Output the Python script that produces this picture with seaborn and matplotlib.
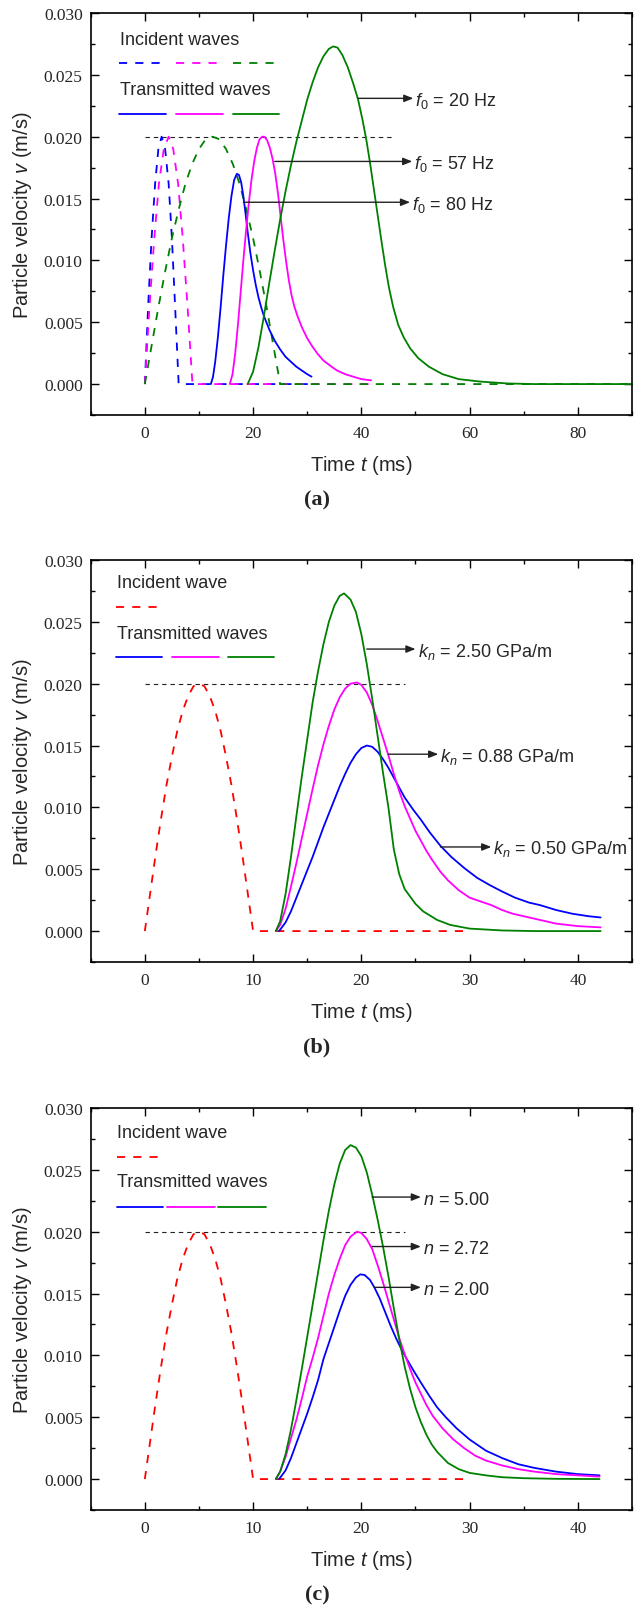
import matplotlib
matplotlib.use("Agg")
import matplotlib.pyplot as plt
from matplotlib.ticker import MultipleLocator, FormatStrFormatter
import seaborn as sns

# ---------------------------------------------------------------- data
# (a) incident half-sine pulses, f0 = 80, 57, 20 Hz (t in ms, v in m/s)
inc80_t = [0, 0.6, 1.25, 1.9, 2.5, 3.1, 3.75, 4.4, 5.0, 5.6, 6.25, 31]
inc80_v = [0, .0062, .0118, .0162, .0190, .0200, .0190, .0162, .0118, .0062, 0, 0]
inc57_t = [0, 0.85, 1.75, 2.6, 3.5, 4.4, 5.25, 6.15, 7.0, 7.9, 8.8, 42]
inc57_v = [0, .0062, .0118, .0162, .0190, .0200, .0190, .0162, .0118, .0062, 0, 0]
inc20_t = [0, 1.25, 2.5, 3.75, 5, 6.25, 7.5, 8.75, 10, 11.25, 12.5,
           13.75, 15, 16.25, 17.5, 18.75, 20, 21.25, 22.5, 23.75, 25, 90]
inc20_v = [0, .0031, .0062, .0091, .0118, .0141, .0162, .0178, .0190, .0198, .0200,
           .0198, .0190, .0178, .0162, .0141, .0118, .0091, .0062, .0031, 0, 0]

# (a) transmitted waves
tr80_t = [12.2, 12.6, 13.0, 13.5, 14.0, 14.5, 15.0, 15.5, 16.0, 16.5, 17.0, 17.4,
          17.8, 18.2, 18.6, 19.0, 19.5, 20.0, 20.5, 21.0, 21.5, 22.0, 23.0, 24.0,
          25.0, 26.0, 27.0, 28.0, 29.0, 30.0, 30.8]
tr80_v = [0, .0006, .0018, .0038, .0062, .0088, .0112, .0134, .0152, .0165, .0170, .0169,
          .0163, .0152, .0138, .0123, .0106, .0092, .0080, .0070, .0062, .0055, .0044, .0035,
          .0028, .0022, .0018, .0014, .0011, .0008, .0006]
tr57_t = [15.7, 16.2, 16.7, 17.2, 17.7, 18.2, 18.7, 19.2, 19.7, 20.2, 20.7, 21.2,
          21.7, 22.1, 22.6, 23.1, 23.6, 24.1, 24.6, 25.1, 25.6, 26.1, 26.6, 27.1,
          27.6, 28.2, 29.0, 30.0, 31.0, 32.0, 33.0, 34.2, 35.5, 37.0, 38.5, 40.0, 41.8]
tr57_v = [0, .0008, .0025, .0048, .0074, .0100, .0124, .0146, .0165, .0180, .0191, .0198,
          .0200, .0200, .0197, .0191, .0182, .0170, .0154, .0135, .0116, .0099, .0084, .0072,
          .0063, .0055, .0046, .0037, .0030, .0024, .0019, .0015, .0011, .0008, .0006, .0004, .0003]
tr20_t = [19.0, 20.0, 21.0, 22.0, 23.0, 24.0, 25.0, 26.0, 27.0, 28.0, 29.0, 30.0,
          31.0, 32.0, 33.0, 34.0, 34.8, 35.6, 36.5, 37.5, 38.5, 39.4, 40.2, 40.9,
          41.6, 42.3, 43.0, 43.7, 44.4, 45.1, 45.9, 46.8, 47.8, 49.0, 50.5, 52.5,
          55.0, 58.0, 62.0, 67.0, 72.0, 90.0]
tr20_v = [0, .0010, .0030, .0055, .0082, .0108, .0133, .0156, .0177, .0196, .0213, .0230,
          .0244, .0256, .0265, .0271, .0273, .0272, .0266, .0256, .0243, .0230, .0214, .0198,
          .0179, .0158, .0137, .0116, .0096, .0078, .0062, .0048, .0038, .0029, .0021, .0014,
          .0008, .0004, .0002, .00005, 0, 0]

# (b), (c) incident half-sine pulse (10 ms)
inc_t = [0, 0.5, 1, 1.5, 2, 2.5, 3, 3.5, 4, 4.5, 5, 5.5, 6, 6.5, 7, 7.5, 8, 8.5,
         9, 9.5, 10, 30]
inc_v = [0, .0031, .0062, .0091, .0118, .0141, .0162, .0178, .0190, .0198, .0200, .0198,
         .0190, .0178, .0162, .0141, .0118, .0091, .0062, .0031, 0, 0]

# (b) transmitted waves, kn = 2.50, 0.88, 0.50 GPa/m
kn250_t = [12.1, 12.5, 13.0, 13.5, 14.0, 14.5, 15.0, 15.5, 16.0, 16.5, 17.0, 17.5,
           18.0, 18.4, 19.0, 19.5, 20.0, 20.5, 21.0, 21.5, 22.0, 22.5, 23.0, 23.5,
           24.0, 25.0, 25.7, 27.0, 28.2, 30.0, 33.0, 36.0, 42.1]
kn250_v = [0, .0008, .0030, .0060, .0093, .0125, .0155, .0185, .0210, .0232, .0250, .0263,
           .0271, .0273, .0268, .0258, .0240, .0216, .0188, .0158, .0128, .0100, .0066, .0046,
           .0034, .0022, .0016, .0009, .0005, .0002, .00005, 0, 0]
kn088_t = [12.1, 12.5, 13.0, 13.5, 14.0, 14.5, 15.0, 15.5, 16.0, 16.5, 17.0, 17.5,
           18.0, 18.5, 19.0, 19.6, 20.0, 20.5, 21.0, 21.5, 22.0, 22.5, 23.0, 23.5,
           24.0, 24.5, 25.0, 25.5, 26.0, 26.5, 27.3, 28.0, 29.0, 30.0, 31.0, 32.0,
           33.0, 34.0, 35.0, 36.5, 38.0, 40.0, 42.1]
kn088_v = [0, .0005, .0018, .0036, .0055, .0075, .0095, .0115, .0134, .0151, .0166, .0179,
           .0189, .0196, .0200, .0201, .0199, .0193, .0183, .0170, .0156, .0142, .0127, .0113,
           .0101, .0091, .0081, .0073, .0065, .0058, .0048, .0041, .0033, .0027, .0024, .0021,
           .0017, .0014, .0012, .0009, .0006, .0004, .0003]
kn050_t = [12.4, 13.0, 13.5, 14.0, 14.5, 15.0, 15.5, 16.0, 16.5, 17.0, 17.5, 18.0,
           18.5, 19.0, 19.5, 20.0, 20.5, 21.0, 21.5, 22.0, 22.5, 23.0, 23.5, 24.0,
           24.8, 25.5, 26.3, 27.3, 28.3, 29.5, 30.7, 31.9, 33.0, 34.2, 35.5, 36.5,
           38.0, 39.5, 41.0, 42.1]
kn050_v = [0, .0007, .0016, .0027, .0038, .0049, .0060, .0072, .0084, .0095, .0106, .0117,
           .0127, .0136, .0143, .0148, .0150, .0149, .0145, .0139, .0132, .0124, .0116, .0108,
           .0098, .0090, .0080, .0069, .0060, .0051, .0043, .0037, .0032, .0027, .0023, .0021,
           .0017, .0014, .0012, .0011]

# (c) transmitted waves, n = 5.00, 2.72, 2.00
n500_t = [12.1, 12.5, 13.0, 13.5, 14.0, 14.5, 15.0, 15.5, 16.0, 16.5, 17.0, 17.5,
          18.0, 18.5, 19.0, 19.5, 20.0, 20.5, 21.0, 21.5, 22.0, 22.5, 23.0, 23.5,
          24.0, 24.5, 25.0, 25.5, 26.0, 26.5, 27.0, 28.0, 29.0, 30.0, 31.5, 33.0,
          35.0, 38.0, 42.0]
n500_v = [0, .0006, .0020, .0040, .0064, .0089, .0115, .0141, .0167, .0193, .0217, .0238,
          .0255, .0266, .0270, .0268, .0261, .0248, .0230, .0210, .0188, .0164, .0138, .0113,
          .0091, .0073, .0058, .0046, .0036, .0028, .0022, .0013, .0008, .0005, .0003, .00015,
          .00007, .00002, 0]
n272_t = [12.1, 12.5, 13.0, 13.5, 14.0, 14.5, 15.0, 15.5, 16.0, 16.5, 17.0, 17.5,
          18.0, 18.5, 19.0, 19.6, 20.0, 20.5, 21.0, 21.5, 22.0, 22.5, 23.0, 23.5,
          24.0, 24.5, 25.0, 25.5, 26.0, 26.6, 27.5, 28.5, 29.5, 30.5, 31.5, 33.0,
          34.5, 36.0, 38.0, 40.0, 42.0]
n272_v = [0, .0006, .0018, .0033, .0048, .0065, .0083, .0098, .0114, .0132, .0150, .0165,
          .0178, .0189, .0196, .0200, .0199, .0194, .0186, .0173, .0159, .0144, .0129, .0114,
          .0101, .0089, .0078, .0069, .0060, .0051, .0041, .0032, .0025, .0019, .0015, .0011,
          .0008, .0006, .0004, .0003, .0002]
n200_t = [12.4, 13.0, 13.5, 14.0, 14.5, 15.0, 15.5, 16.0, 16.5, 17.0, 17.5, 18.0,
          18.5, 19.0, 19.5, 19.9, 20.3, 20.8, 21.2, 21.7, 22.2, 22.7, 23.2, 23.7,
          24.2, 24.8, 25.5, 26.3, 27.0, 27.8, 28.8, 30.0, 31.5, 33.0, 34.5, 36.0,
          38.0, 40.0, 42.0]
n200_v = [0, .0007, .0017, .0029, .0041, .0053, .0066, .0080, .0097, .0110, .0123, .0136,
          .0148, .0157, .0163, .01655, .0165, .0161, .0155, .0146, .0135, .0124, .0114, .0105,
          .0097, .0088, .0078, .0067, .0058, .0050, .0041, .0032, .0023, .0017, .0012, .0009,
          .0006, .0004, .0003]

# annotation labels and arrow geometry: (label, arrow start t, arrow end t, v)
notes_a = [("$f_0$ = 20 Hz", 39.4, 49.6, 0.0231),
           ("$f_0$ = 57 Hz", 24.0, 49.4, 0.0180),
           ("$f_0$ = 80 Hz", 18.2, 49.0, 0.0147)]
notes_b = [("$k_n$ = 2.50 GPa/m", 20.5, 25.0, 0.0228),
           ("$k_n$ = 0.88 GPa/m", 22.5, 27.1, 0.0143),
           ("$k_n$ = 0.50 GPa/m", 27.3, 32.0, 0.0068)]
notes_c = [("$n$ = 5.00", 21.0, 25.5, 0.0228),
           ("$n$ = 2.72", 21.0, 25.5, 0.0188),
           ("$n$ = 2.00", 21.2, 25.5, 0.0155)]

BLUE, MAGENTA, GREEN, RED = "#0000FF", "#FF00FF", "#008000", "#FF0000"

# ---------------------------------------------------------------- style
sns.set_style("ticks")
plt.rcParams["font.family"] = ["Liberation Sans", "DejaVu Sans"]
plt.rcParams["mathtext.fontset"] = "custom"
plt.rcParams["mathtext.rm"] = "Liberation Sans"
plt.rcParams["mathtext.it"] = "Liberation Sans:italic"
plt.rcParams["mathtext.bf"] = "Liberation Sans:bold"

LW = 1.3
DASH = (0, (4.5, 4.5))

fig = plt.figure(figsize=(6.34, 16.08), dpi=100)
W = 541.3 / 634
H = 402 / 1608
ax_a = fig.add_axes([90.7 / 634, 1 - 416 / 1608, W, H])
ax_b = fig.add_axes([90.7 / 634, 1 - 963 / 1608, W, H])
ax_c = fig.add_axes([90.7 / 634, 1 - 1511 / 1608, W, H])


def curve(ax, t, v, color, dashed=False):
    sns.lineplot(x=t, y=v, ax=ax, color=color, linewidth=LW, sort=False,
                 estimator=None, legend=False,
                 linestyle=DASH if dashed else "-")


def style_axes(ax, xlim, xmajor):
    ax.set_xlim(*xlim)
    ax.set_ylim(-0.0025, 0.030)
    ax.xaxis.set_major_locator(MultipleLocator(xmajor))
    ax.xaxis.set_minor_locator(MultipleLocator(xmajor / 2))
    ax.yaxis.set_major_locator(MultipleLocator(0.005))
    ax.yaxis.set_minor_locator(MultipleLocator(0.0025))
    ax.yaxis.set_major_formatter(FormatStrFormatter("%.3f"))
    ax.tick_params(which="both", direction="in", top=True, right=True,
                   width=1.0, color="black")
    ax.tick_params(which="major", length=5.8)
    ax.tick_params(which="minor", length=3.0)
    ax.tick_params(axis="y", which="major", pad=5.8)
    ax.tick_params(axis="x", which="major", pad=7)
    for lab in ax.get_xticklabels() + ax.get_yticklabels():
        lab.set_fontfamily("Liberation Serif")
        lab.set_fontsize(12.5)
    for sp in ax.spines.values():
        sp.set_linewidth(1.2)
        sp.set_color("black")
    ax.set_xlabel("Time $t$ (ms)", fontsize=14.5)
    ax.set_ylabel("Particle velocity $v$ (m/s)", fontsize=14.5)
    ax.xaxis.set_label_coords(0.5, -0.095)
    ax.yaxis.set_label_coords(-0.104, 0.5)


def reference_line(ax, t_end):
    ax.plot([0, t_end], [0.020, 0.020], color="#222222", lw=0.8,
            linestyle=(0, (4, 3.5)), zorder=1)


def legend_block(ax, title_inc, y_rows, x_text, inc_segs, inc_cols, tr_segs, tr_cols):
    y_t1, y_l1, y_t2, y_l2 = y_rows
    ax.text(x_text, y_t1, title_inc, transform=ax.transAxes, fontsize=13,
            va="center", ha="left")
    for (x0, x1), c in zip(inc_segs, inc_cols):
        ax.plot([x0, x1], [y_l1, y_l1], transform=ax.transAxes, color=c, lw=LW,
                linestyle=DASH)
    ax.text(x_text, y_t2, "Transmitted waves", transform=ax.transAxes, fontsize=13,
            va="center", ha="left")
    for (x0, x1), c in zip(tr_segs, tr_cols):
        ax.plot([x0, x1], [y_l2, y_l2], transform=ax.transAxes, color=c, lw=LW)


def notes(ax, items):
    for label, t0, t1, v in items:
        ax.annotate("", xy=(t1, v), xytext=(t0, v),
                    arrowprops=dict(arrowstyle="-|>,head_length=0.55,head_width=0.22",
                                    color="#222222", lw=1.0, shrinkA=0, shrinkB=0))
        ax.annotate(label, xy=(t1, v), xytext=(1.5, -4.7), textcoords="offset points",
                    fontsize=13, va="baseline", ha="left")


# ---------------------------------------------------------------- (a)
reference_line(ax_a, 46)
curve(ax_a, inc80_t, inc80_v, BLUE, dashed=True)
curve(ax_a, inc57_t, inc57_v, MAGENTA, dashed=True)
curve(ax_a, inc20_t, inc20_v, GREEN, dashed=True)
curve(ax_a, tr80_t, tr80_v, BLUE)
curve(ax_a, tr57_t, tr57_v, MAGENTA)
curve(ax_a, tr20_t, tr20_v, GREEN)
style_axes(ax_a, (-10, 90), 20)
segs_a = [(0.0515, 0.139), (0.158, 0.244), (0.263, 0.348)]
legend_block(ax_a, "Incident waves", (0.933, 0.875, 0.809, 0.749), 0.054,
             segs_a, [BLUE, MAGENTA, GREEN], segs_a, [BLUE, MAGENTA, GREEN])
notes(ax_a, notes_a)

# ---------------------------------------------------------------- (b)
reference_line(ax_b, 24)
curve(ax_b, inc_t, inc_v, RED, dashed=True)
curve(ax_b, kn050_t, kn050_v, BLUE)
curve(ax_b, kn088_t, kn088_v, MAGENTA)
curve(ax_b, kn250_t, kn250_v, GREEN)
style_axes(ax_b, (-5, 45), 10)
legend_block(ax_b, "Incident wave", (0.945, 0.884, 0.816, 0.758), 0.048,
             [(0.047, 0.128)], [RED],
             [(0.047, 0.132), (0.150, 0.237), (0.254, 0.339)], [BLUE, MAGENTA, GREEN])
notes(ax_b, notes_b)

# ---------------------------------------------------------------- (c)
reference_line(ax_c, 24)
curve(ax_c, inc_t, inc_v, RED, dashed=True)
curve(ax_c, n200_t, n200_v, BLUE)
curve(ax_c, n272_t, n272_v, MAGENTA)
curve(ax_c, n500_t, n500_v, GREEN)
style_axes(ax_c, (-5, 45), 10)
legend_block(ax_c, "Incident wave", (0.939, 0.878, 0.816, 0.754), 0.048,
             [(0.048, 0.128)], [RED],
             [(0.048, 0.133), (0.141, 0.229), (0.236, 0.324)], [BLUE, MAGENTA, GREEN])
notes(ax_c, notes_c)

# panel captions
for y, cap in [(1 - 500 / 1608, "(a)"), (1 - 1047 / 1608, "(b)"), (1 - 1595 / 1608, "(c)")]:
    fig.text(0.5, y, cap, ha="center", va="center", fontsize=16, fontweight="bold",
             fontfamily="Liberation Serif")

fig.savefig("out.png", dpi=100)
